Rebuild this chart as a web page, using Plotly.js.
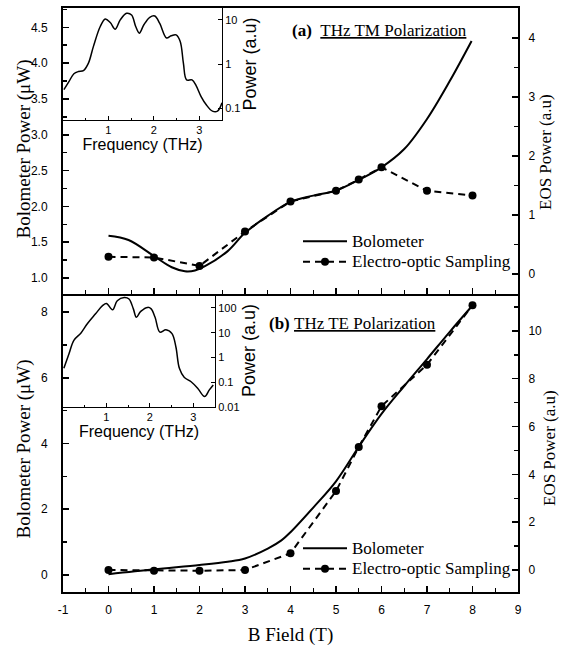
<!DOCTYPE html>
<html><head><meta charset="utf-8">
<script src="https://cdn.plot.ly/plotly-3.0.1.min.js"></script>
<style>html,body{margin:0;padding:0;background:#fff}</style>
</head><body>
<div id="chart" style="width:561px;height:646px"></div>
<script>
// ---------- data ----------
// (a) TM polarization, main panel
const tmBoloB   = [0, 0.44, 1, 1.39, 1.68, 1.9, 2.12, 2.62, 3, 3.5, 4, 4.5, 5, 5.5, 6, 6.5, 7, 7.5, 7.98];
const tmBoloP   = [1.59, 1.53, 1.305, 1.15, 1.094, 1.104, 1.164, 1.375, 1.63, 1.867, 2.063, 2.15, 2.22, 2.37, 2.545, 2.8, 3.22, 3.75, 4.31];
const tmEosB    = [0, 1, 2, 3, 4, 5, 5.5, 6, 7, 8];
const tmEosP    = [0.29, 0.28, 0.136, 0.72, 1.23, 1.41, 1.6, 1.81, 1.41, 1.33];
// (b) TE polarization, main panel
const teBoloB   = [0, 1, 2, 2.62, 3, 3.5, 3.8, 4, 4.5, 5, 5.5, 6, 6.5, 7, 7.5, 8];
const teBoloP   = [0.02, 0.17, 0.3, 0.4, 0.5, 0.8, 1.05, 1.3, 2.05, 2.85, 3.9, 4.9, 5.75, 6.57, 7.4, 8.2];
const teEosB    = [0, 1, 2, 3, 4, 5, 5.5, 6, 7, 8];
const teEosP    = [0, -0.03, -0.03, 0, 0.7, 3.3, 5.14, 6.85, 8.58, 11.07];
// insets: THz spectra (log10 of power)
const tmFreq = [0.02, 0.13, 0.24, 0.34, 0.45, 0.56, 0.67, 0.82, 0.93, 1.04, 1.15, 1.26, 1.40, 1.51, 1.60, 1.68, 1.78, 1.91, 2.02, 2.13, 2.28, 2.38, 2.49, 2.58, 2.65, 2.72, 2.84, 2.93, 3.04, 3.15, 3.29, 3.40, 3.50];
const tmLogP = [-0.58, -0.40, -0.22, -0.17, -0.15, 0.02, 0.40, 0.85, 1.02, 0.94, 0.79, 1.0, 1.15, 1.11, 0.85, 0.70, 0.89, 1.06, 1.09, 0.92, 0.59, 0.64, 0.66, 0.51, 0.02, -0.36, -0.36, -0.49, -0.74, -0.92, -1.07, -1.07, -0.88];
const teFreq = [0.02, 0.14, 0.25, 0.41, 0.56, 0.75, 0.91, 1.0, 1.14, 1.25, 1.41, 1.52, 1.62, 1.69, 1.79, 1.95, 2.03, 2.12, 2.23, 2.37, 2.51, 2.60, 2.68, 2.79, 2.95, 3.10, 3.26, 3.37, 3.46];
const teLogP = [-0.44, 0.16, 0.69, 0.98, 1.36, 1.76, 2.09, 2.18, 1.92, 2.29, 2.42, 2.36, 1.96, 1.62, 1.86, 2.02, 1.96, 1.62, 1.02, 1.12, 0.96, 0.42, -0.44, -0.80, -0.98, -1.24, -1.58, -1.31, -1.11];
const bFieldTicks = [-1, 0, 1, 2, 3, 4, 5, 6, 7, 8, 9];
const bFieldLabels = ['-1', '0', '1', '2', '3', '4', '5', '6', '7', '8', '9'];
const tickLabelsTM = ['0.1', '1', '10'];
const tickLabelsTE = ['0.01', '0.1', '1', '10', '100'];

// ---------- layout ----------
const SERIF = 'Liberation Serif, Times New Roman, serif';
const SANS = 'Liberation Sans, Arial, sans-serif';
const W = 561, H = 646, L = 63, R = 518, T = 8, B = 592;
const px = x => (x - L) / (R - L);
const py = y => (B - y) / (B - T);
const yMid = py(294);

const tickFont = {family: SANS, size: 12, color: '#000'};
const pw = v => v.map(d => Math.pow(10, d));
const lg = s => '<span style="font-size:17px;font-family:\'Liberation Serif\',\'Times New Roman\',serif">' + s + '</span>';

const traces = [
  {x: tmBoloB, y: tmBoloP, xaxis: 'x2', yaxis: 'y3', mode: 'lines', name: lg('Bolometer'),
   line: {color: '#000', width: 2, shape: 'spline'}, legend: 'legend'},
  {x: tmEosB, y: tmEosP, xaxis: 'x2', yaxis: 'y4', mode: 'lines+markers', name: lg('Electro-optic Sampling'),
   line: {color: '#000', width: 2, dash: '7px,5px'}, marker: {color: '#000', size: 8}, legend: 'legend'},
  {x: teBoloB, y: teBoloP, xaxis: 'x', yaxis: 'y', mode: 'lines', name: lg('Bolometer'),
   line: {color: '#000', width: 2, shape: 'spline'}, legend: 'legend2'},
  {x: teEosB, y: teEosP, xaxis: 'x', yaxis: 'y2', mode: 'lines+markers', name: lg('Electro-optic Sampling'),
   line: {color: '#000', width: 2, dash: '7px,5px'}, marker: {color: '#000', size: 8}, legend: 'legend2'},
  {x: tmFreq, y: pw(tmLogP), xaxis: 'x3', yaxis: 'y5', mode: 'lines', showlegend: false,
   line: {color: '#000', width: 1.5, shape: 'spline'}},
  {x: teFreq, y: pw(teLogP), xaxis: 'x4', yaxis: 'y6', mode: 'lines', showlegend: false,
   line: {color: '#000', width: 1.5, shape: 'spline'}}
];

function mainAxis(extra) {
  return Object.assign({
    showline: true, linecolor: '#000', linewidth: 2, ticks: 'inside', ticklen: 6, tickwidth: 1.5,
    tickcolor: '#000', showgrid: false, zeroline: false, tickfont: tickFont, ticklabelstandoff: 6
  }, extra);
}
function insetAxis(extra) {
  return Object.assign({
    showline: true, linecolor: '#000', linewidth: 1, ticks: 'inside', ticklen: 4, tickwidth: 1,
    tickcolor: '#000', showgrid: false, zeroline: false, tickfont: {family: SANS, size: 11, color: '#000'}
  }, extra);
}
const minorX = {dtick: 0.5, ticks: 'inside', ticklen: 4, tickcolor: '#000', tickwidth: 1.2};
const titleFont = s => ({family: SERIF, size: s, color: '#000'});
function sideTitle(text, x, y, size) {
  return {xref: 'paper', yref: 'paper', x: px(x), y: py(y), xanchor: 'center', yanchor: 'middle',
    showarrow: false, textangle: -90, text: text, font: titleFont(size)};
}

const layout = {
  width: W, height: H,
  margin: {l: L, r: W - R, t: T, b: H - B, pad: 0},
  paper_bgcolor: '#fff', plot_bgcolor: 'rgba(0,0,0,0)',
  font: {family: SERIF, color: '#000', size: 14},
  showlegend: true,
  xaxis: mainAxis({domain: [0, 1], anchor: 'y', range: [-1, 9], tickvals: bFieldTicks, ticktext: bFieldLabels,
    minor: minorX,
    title: {text: 'B Field (T)', font: titleFont(19), standoff: 14}}),
  // ticks on the top edge of the lower panel (shared border)
  xaxis5: mainAxis({domain: [0, 1], anchor: 'y', overlaying: 'x', side: 'top', range: [-1, 9], dtick: 1,
    showline: false, showticklabels: false, minor: minorX}),
  xaxis2: mainAxis({domain: [0, 1], anchor: 'y3', range: [-1, 9], dtick: 1, mirror: true, showticklabels: false,
    minor: minorX}),
  yaxis: mainAxis({domain: [0, yMid], anchor: 'x', range: [-0.52, 8.55], dtick: 2, ticklabelstandoff: 11,
    minor: {dtick: 1, ticks: 'inside', ticklen: 4, tickcolor: '#000'}}),
  yaxis2: mainAxis({domain: [0, yMid], anchor: 'x', overlaying: 'y', side: 'right', range: [-0.92, 11.54], dtick: 2,
    minor: {dtick: 1, ticks: 'inside', ticklen: 4, tickcolor: '#000'}}),
  yaxis3: mainAxis({domain: [yMid, 1], anchor: 'x2', range: [0.776, 4.77], dtick: 0.5, tickformat: '.1f', ticklabelstandoff: 11,
    minor: {dtick: 0.25, ticks: 'inside', ticklen: 4, tickcolor: '#000'}}),
  yaxis4: mainAxis({domain: [yMid, 1], anchor: 'x2', overlaying: 'y3', side: 'right', range: [-0.34, 4.51], dtick: 1,
    minor: {dtick: 0.5, ticks: 'inside', ticklen: 4, tickcolor: '#000'}}),
  xaxis3: insetAxis({domain: [0, px(222)], anchor: 'y5', range: [0, 3.5], tickvals: [1, 2, 3],
    minor: {dtick: 0.5, ticks: 'inside', ticklen: 2, tickcolor: '#000'},
    title: {text: 'Frequency (THz)', font: {family: SANS, size: 16, color: '#000'}, standoff: 2}}),
  yaxis5: insetAxis({domain: [py(120), 1], anchor: 'x3', side: 'right', type: 'log', range: [-1.27, 1.27],
    tickvals: [0.1, 1, 10], ticktext: tickLabelsTM,
    title: {text: 'Power (a.u)', font: {family: SANS, size: 18, color: '#000'}, standoff: 3}}),
  xaxis4: insetAxis({domain: [0, px(215)], anchor: 'y6', range: [0, 3.5], tickvals: [1, 2, 3],
    minor: {dtick: 0.5, ticks: 'inside', ticklen: 2, tickcolor: '#000'},
    title: {text: 'Frequency (THz)', font: {family: SANS, size: 16, color: '#000'}, standoff: 2}}),
  yaxis6: insetAxis({domain: [py(407), yMid], anchor: 'x4', side: 'right', type: 'log', range: [-2, 2.56],
    tickvals: [0.01, 0.1, 1, 10, 100], ticktext: tickLabelsTE,
    title: {text: 'Power (a.u)', font: {family: SANS, size: 18, color: '#000'}, standoff: 3}}),
  legend: {x: px(298), y: py(226), xanchor: 'left', yanchor: 'top', bgcolor: 'rgba(0,0,0,0)',
    font: {family: SERIF, size: 13.5, color: '#000'}, itemwidth: 44, tracegroupgap: 0},
  legend2: {x: px(298), y: py(533), xanchor: 'left', yanchor: 'top', bgcolor: 'rgba(0,0,0,0)',
    font: {family: SERIF, size: 13.5, color: '#000'}, itemwidth: 44, tracegroupgap: 0},
  annotations: [
    {xref: 'paper', yref: 'paper', x: px(290), y: py(30), xanchor: 'left', yanchor: 'middle', showarrow: false,
     text: '<b>(a)</b>\u00a0\u00a0<u>THz TM Polarization</u>', font: titleFont(17)},
    {xref: 'paper', yref: 'paper', x: px(267), y: py(323), xanchor: 'left', yanchor: 'middle', showarrow: false,
     text: '<b>(b)</b>\u00a0<u>THz TE Polarization</u>', font: titleFont(17)},
    sideTitle('Bolometer Power (\u03bcW)', 23.5, 149, 19),
    sideTitle('Bolometer Power (\u03bcW)', 23.5, 449, 19),
    sideTitle('EOS Power (a.u)', 545, 152, 17),
    sideTitle('EOS Power (a.u)', 549, 448, 17)
  ]
};

Plotly.newPlot('chart', traces, layout, {staticPlot: true, displayModeBar: false});
</script>
</body></html>
